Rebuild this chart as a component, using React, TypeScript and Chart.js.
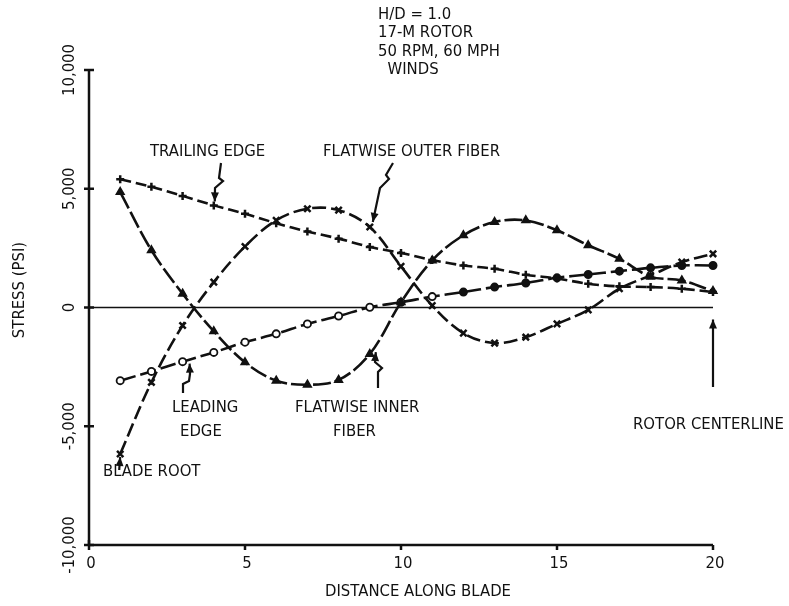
import React, { useEffect, useRef } from "react";
import { Chart, registerables } from "chart.js";

Chart.register(...registerables);

// ---- data (stress in PSI along blade) ----
const stations = [1, 2, 3, 4, 5, 6, 7, 8, 9, 10, 11, 12, 13, 14, 15, 16, 17, 18, 19, 20];
const trailingEdge = [5400, 5080, 4700, 4300, 3950, 3550, 3200, 2900, 2550, 2300, 2000, 1770, 1630, 1380, 1220, 1000, 890, 860, 790, 650];
const flatwiseOuterFiber = [-6170, -3150, -760, 1070, 2570, 3670, 4160, 4100, 3390, 1730, 80, -1080, -1500, -1250, -690, -100, 790, 1350, 1910, 2260];
const flatwiseInnerFiber = [4860, 2410, 580, -1000, -2310, -3080, -3250, -3050, -1960, 220, 1980, 3040, 3600, 3670, 3250, 2620, 2050, 1300, 1140, 690];
const leadingEdge = [-3080, -2690, -2280, -1890, -1460, -1110, -690, -360, 10, 220, 460, 650, 860, 1030, 1250, 1390, 1530, 1670, 1770, 1770];
const leadingEdgeOpen = [true, true, true, true, true, true, true, true, true, true, true, false, false, false, false, false, false, false, false, false];

const xTicks = [0, 5, 10, 15, 20];
const xTickLabels = ["0", "5", "10", "15", "20"];
const yTicks = [-10000, -5000, 0, 5000, 10000];
const yTickLabels = ["-10,000", "-5,000", "0", "5,000", "10,000"];

const infoLines = ["H/D = 1.0", "17-M ROTOR", "50 RPM, 60 MPH", "  WINDS"];

const FONT = '"DejaVu Sans", sans-serif';

function txt(ctx: CanvasRenderingContext2D, s: string, x: number, y: number, o: { size?: number; align?: CanvasTextAlign; rot?: number; sx?: number } = {}) {
  const size = o.size ?? 16;
  ctx.save();
  ctx.translate(x, y);
  if (o.rot) ctx.rotate(o.rot);
  ctx.scale(o.sx ?? 0.93, 1);
  ctx.font = `${size}px ${FONT}`;
  ctx.textAlign = o.align ?? "left";
  ctx.textBaseline = "middle";
  ctx.fillStyle = "#111";
  ctx.fillText(s, 0, 0);
  ctx.restore();
}

function arrowHead(ctx: CanvasRenderingContext2D, fx: number, fy: number, tx: number, ty: number, len = 9, wid = 4) {
  const a = Math.atan2(ty - fy, tx - fx);
  ctx.beginPath();
  ctx.moveTo(tx, ty);
  ctx.lineTo(tx - len * Math.cos(a) + wid * Math.sin(a), ty - len * Math.sin(a) - wid * Math.cos(a));
  ctx.lineTo(tx - len * Math.cos(a) - wid * Math.sin(a), ty - len * Math.sin(a) + wid * Math.cos(a));
  ctx.closePath();
  ctx.fill();
}

function leader(ctx: CanvasRenderingContext2D, pts: number[][]) {
  ctx.beginPath();
  ctx.moveTo(pts[0][0], pts[0][1]);
  for (let i = 1; i < pts.length; i++) ctx.lineTo(pts[i][0], pts[i][1]);
  ctx.stroke();
  const n = pts.length;
  arrowHead(ctx, pts[n - 2][0], pts[n - 2][1], pts[n - 1][0], pts[n - 1][1]);
}

const decorPlugin = {
  id: "decor",
  beforeDatasetsDraw(chart: any) {
    const ctx: CanvasRenderingContext2D = chart.ctx;
    const xs = chart.scales.x;
    const ys = chart.scales.y;
    const { left, right, top, bottom } = chart.chartArea;
    ctx.save();
    ctx.strokeStyle = "#111";
    ctx.fillStyle = "#111";
    // y axis
    ctx.lineWidth = 2.5;
    ctx.beginPath();
    ctx.moveTo(left, top);
    ctx.lineTo(left, bottom);
    ctx.stroke();
    yTicks.forEach((v) => {
      const py = ys.getPixelForValue(v);
      ctx.beginPath();
      ctx.moveTo(left - 5, py);
      ctx.lineTo(left + 5, py);
      ctx.stroke();
    });
    // x axis
    ctx.beginPath();
    ctx.moveTo(left, bottom);
    ctx.lineTo(right, bottom);
    ctx.stroke();
    xTicks.forEach((v) => {
      const px = xs.getPixelForValue(v);
      ctx.beginPath();
      ctx.moveTo(px, bottom - (v === 0 ? 5 : 0));
      ctx.lineTo(px, bottom + 5);
      ctx.stroke();
    });
    // zero line
    ctx.lineWidth = 1.6;
    const y0 = ys.getPixelForValue(0);
    ctx.beginPath();
    ctx.moveTo(left, y0);
    ctx.lineTo(right, y0);
    ctx.stroke();
    ctx.restore();
  },
  afterDraw(chart: any) {
    const ctx: CanvasRenderingContext2D = chart.ctx;
    const xs = chart.scales.x;
    const ys = chart.scales.y;
    const { left, bottom } = chart.chartArea;
    const P = (x: number, y: number) => [xs.getPixelForValue(x), ys.getPixelForValue(y)];
    ctx.save();
    ctx.strokeStyle = "#111";
    ctx.fillStyle = "#111";
    ctx.lineWidth = 2.2;

    // tick labels
    yTicks.forEach((v, i) => {
      txt(ctx, yTickLabels[i], left - 19, ys.getPixelForValue(v), { rot: -Math.PI / 2, align: "center" });
    });
    xTicks.forEach((v, i) => {
      txt(ctx, xTickLabels[i], xs.getPixelForValue(v) + 2, bottom + 19, { align: "center" });
    });
    // axis titles
    txt(ctx, "STRESS (PSI)", 20, 290, { rot: -Math.PI / 2, align: "center" });
    txt(ctx, "DISTANCE ALONG BLADE", 418, 592, { align: "center" });

    // info block
    infoLines.forEach((s, i) => txt(ctx, s, 378, 15 + i * 18.3));

    // labels
    txt(ctx, "TRAILING EDGE", 150, 152);
    txt(ctx, "FLATWISE OUTER FIBER", 323, 152);
    txt(ctx, "LEADING", 172, 408);
    txt(ctx, "EDGE", 180, 432);
    txt(ctx, "FLATWISE INNER", 295, 408);
    txt(ctx, "FIBER", 333, 432);
    txt(ctx, "BLADE ROOT", 103, 472);
    txt(ctx, "ROTOR CENTERLINE", 633, 425);

    // leaders
    const te = P(stations[3], trailingEdge[3]);
    leader(ctx, [[221, 163], [219, 178], [223, 181], [215, 188], [te[0] + 1, te[1] - 4]]);
    const of = P(stations[8], flatwiseOuterFiber[8]);
    leader(ctx, [[393, 163], [386, 175], [389, 179], [380, 188], [of[0] + 3, of[1] - 5]]);
    const le = P(stations[2], leadingEdge[2]);
    leader(ctx, [[183, 393], [183, 384], [189, 381], [190, 374], [le[0] + 7, le[1] + 2]]);
    const inn = P(stations[8], flatwiseInnerFiber[8]);
    leader(ctx, [[378, 388], [378, 372], [382, 368], [375, 362], [inn[0] + 6, inn[1] - 2]]);
    const br = P(stations[0], flatwiseOuterFiber[0]);
    leader(ctx, [[br[0] - 1, br[1] + 16], [br[0], br[1] + 3]]);
    const rc = P(20, 0);
    leader(ctx, [[rc[0], 387], [rc[0], rc[1] + 12]]);
    ctx.restore();
  },
};

function ds(label: string, vals: number[], style: any) {
  return {
    label,
    data: stations.map((x, i) => ({ x, y: vals[i] })),
    borderColor: "#111",
    pointBorderColor: "#111",
    pointBackgroundColor: "#111",
    borderWidth: 2.6,
    tension: 0.35,
    clip: false,
    ...style,
  };
}

export default function App() {
  const ref = useRef<HTMLCanvasElement | null>(null);
  useEffect(() => {
    if (!ref.current) return;
    const chart = new Chart(ref.current, {
      type: "line",
      data: {
        datasets: [
          ds("Trailing edge", trailingEdge, { borderDash: [11, 5], pointStyle: "cross", pointRadius: 4, pointBorderWidth: 2.5 }),
          ds("Flatwise outer fiber", flatwiseOuterFiber, { borderDash: [14, 5], pointStyle: "crossRot", pointRadius: 4.5, pointBorderWidth: 2.5 }),
          ds("Flatwise inner fiber", flatwiseInnerFiber, { borderDash: [18, 4], pointStyle: "triangle", pointRadius: 4.5, pointBorderWidth: 1.5 }),
          ds("Leading edge", leadingEdge, {
            borderDash: [16, 5],
            pointStyle: "circle",
            pointRadius: 3.6,
            pointBorderWidth: 1.8,
            pointBackgroundColor: leadingEdgeOpen.map((o) => (o ? "#fff" : "#111")),
          }),
        ],
      },
      options: {
        animation: false,
        responsive: false,
        devicePixelRatio: 1,
        layout: { padding: { top: 70, right: 76, left: 0, bottom: 0 } },
        plugins: { legend: { display: false }, tooltip: { enabled: false } },
        scales: {
          x: {
            type: "linear",
            min: 0,
            max: 20,
            ticks: { display: false },
            grid: { display: false },
            border: { display: false },
            afterFit: (s: any) => { s.height = 61; },
          },
          y: {
            type: "linear",
            min: -10000,
            max: 10000,
            ticks: { display: false },
            grid: { display: false },
            border: { display: false },
            afterFit: (s: any) => { s.width = 89; },
          },
        },
      },
      plugins: [decorPlugin],
    });
    return () => chart.destroy();
  }, []);
  return (
    <div style={{ position: "absolute", left: 0, top: 0, width: 789, height: 606, background: "#fff" }}>
      <canvas ref={ref} width={789} height={606} style={{ width: 789, height: 606 }} />
    </div>
  );
}
